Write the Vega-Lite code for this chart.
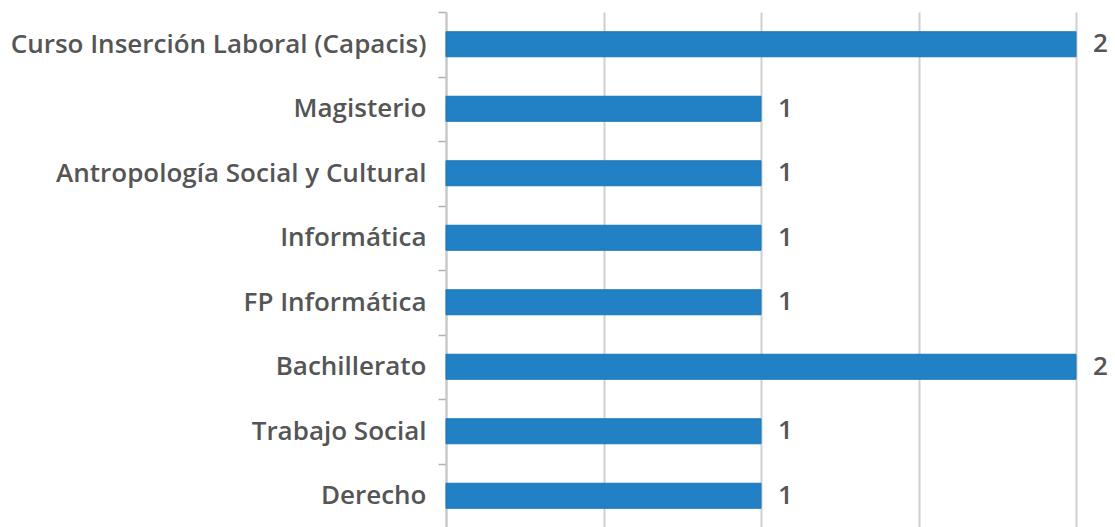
{
  "$schema": "https://vega.github.io/schema/vega-lite/v6.json",
  "autosize": "none",
  "width": 630,
  "height": 516,
  "padding": {"left": 446, "top": 12, "right": 39, "bottom": 0},
  "background": "white",
  "config": {"view": {"stroke": null}},
  "data": {"values": [
    {"carrera": "Curso Inserción Laboral (Capacis)", "n": 2},
    {"carrera": "Magisterio", "n": 1},
    {"carrera": "Antropología Social y Cultural", "n": 1},
    {"carrera": "Informática", "n": 1},
    {"carrera": "FP Informática", "n": 1},
    {"carrera": "Bachillerato", "n": 2},
    {"carrera": "Trabajo Social", "n": 1},
    {"carrera": "Derecho", "n": 1}
  ]},
  "encoding": {
    "y": {"field": "carrera", "type": "nominal", "sort": null,
      "scale": {"paddingInner": 0, "paddingOuter": 0},
      "axis": {"title": null, "tickBand": "extent", "grid": false, "labelLimit": 0,
        "domainColor": "#c8c8c8", "domainWidth": 2, "tickColor": "#b0b0b0", "tickSize": 8, "tickWidth": 1.5,
        "labelFont": "Open Sans", "labelFontWeight": 600, "labelFontSize": 26, "labelColor": "#555555", "labelPadding": 12}},
    "x": {"field": "n", "type": "quantitative", "scale": {"domain": [0, 2], "nice": false},
      "axis": {"title": null, "labels": false, "ticks": false, "domain": false, "tickMinStep": 0.1, "values": [0, 0.5, 1, 1.5, 2],
        "gridColor": "#d0d0d0", "gridWidth": 2}}
  },
  "layer": [
    {"mark": {"type": "bar", "size": 25, "color": "#2281c4", "stroke": "#1b76b9", "strokeWidth": 1}},
    {"mark": {"type": "text", "align": "left", "baseline": "middle", "dx": 17, "font": "Open Sans", "fontWeight": 600, "fontSize": 26, "color": "#555555"},
      "encoding": {"text": {"field": "n"}}}
  ]
}
